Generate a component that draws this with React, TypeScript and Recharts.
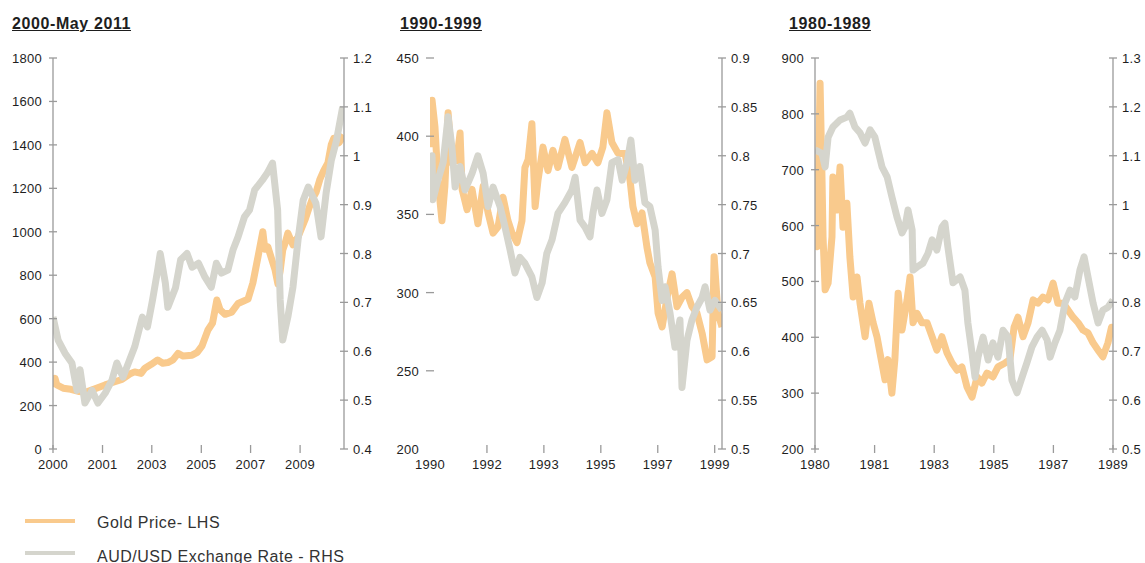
import React from "react";
import { LineChart, Line, XAxis, YAxis } from "recharts";

type Pt = [number, number];

// ---- 2000 - May 2011 ----
const gold2000: Pt[] = [
  [2000.0, 285], [2000.08, 325], [2000.15, 295], [2000.4, 280], [2000.7, 275],
  [2001.0, 265], [2001.3, 262], [2001.7, 280], [2002.04, 295], [2002.3, 305],
  [2002.7, 320], [2003.0, 345], [2003.2, 355], [2003.45, 348], [2003.6, 372],
  [2003.85, 390], [2004.1, 410], [2004.3, 395], [2004.5, 398], [2004.7, 410],
  [2004.9, 440], [2005.1, 428], [2005.45, 432], [2005.65, 445], [2005.84, 475],
  [2006.07, 548], [2006.25, 580], [2006.42, 686], [2006.55, 640], [2006.74, 620],
  [2007.0, 630], [2007.25, 670], [2007.45, 680], [2007.64, 690], [2007.83, 764],
  [2008.03, 884], [2008.22, 1000], [2008.3, 920], [2008.42, 930], [2008.55, 880],
  [2008.7, 824], [2008.81, 760], [2008.9, 820], [2009.0, 916], [2009.1, 950],
  [2009.2, 994], [2009.4, 940], [2009.6, 976], [2009.87, 1054], [2010.0, 1100],
  [2010.14, 1146], [2010.3, 1180], [2010.45, 1240], [2010.6, 1280], [2010.77, 1317],
  [2010.9, 1400], [2011.0, 1430], [2011.2, 1410], [2011.4, 1445],
];
const aud2000: Pt[] = [
  [2000.0, 0.67], [2000.2, 0.623], [2000.47, 0.596], [2000.74, 0.576], [2000.94, 0.52],
  [2001.06, 0.562], [2001.25, 0.494], [2001.53, 0.52], [2001.76, 0.494], [2002.04, 0.514],
  [2002.31, 0.541], [2002.5, 0.576], [2002.74, 0.547], [2003.0, 0.582], [2003.2, 0.609],
  [2003.5, 0.67], [2003.7, 0.65], [2003.9, 0.705], [2004.1, 0.766], [2004.2, 0.8],
  [2004.4, 0.74], [2004.5, 0.69], [2004.8, 0.73], [2005.0, 0.787], [2005.25, 0.8],
  [2005.45, 0.772], [2005.7, 0.78], [2005.95, 0.752], [2006.2, 0.731], [2006.4, 0.78],
  [2006.6, 0.76], [2006.85, 0.766], [2007.05, 0.807], [2007.25, 0.834], [2007.5, 0.875],
  [2007.7, 0.889], [2007.9, 0.93], [2008.2, 0.95], [2008.4, 0.965], [2008.6, 0.985],
  [2008.8, 0.889], [2008.9, 0.705], [2009.0, 0.623], [2009.2, 0.67], [2009.4, 0.731],
  [2009.6, 0.828], [2009.8, 0.909], [2010.0, 0.936], [2010.3, 0.903], [2010.5, 0.834],
  [2010.7, 0.924], [2010.9, 0.99], [2011.1, 1.03], [2011.35, 1.1],
];

// ---- 1990 - 1999 ----
const gold1990: Pt[] = [
  [1990.0, 393], [1990.07, 423], [1990.17, 406], [1990.27, 372], [1990.41, 346],
  [1990.51, 368], [1990.62, 415], [1990.75, 383], [1990.92, 385], [1991.03, 402],
  [1991.1, 366], [1991.27, 353], [1991.44, 366], [1991.64, 344], [1991.82, 368],
  [1991.99, 351], [1992.16, 338], [1992.33, 342], [1992.5, 361], [1992.67, 346],
  [1992.81, 338], [1992.98, 332], [1993.15, 346], [1993.25, 380], [1993.36, 385],
  [1993.49, 408], [1993.6, 355], [1993.7, 372], [1993.87, 393], [1994.04, 378],
  [1994.21, 391], [1994.38, 380], [1994.62, 398], [1994.86, 380], [1995.14, 396],
  [1995.31, 383], [1995.55, 389], [1995.75, 383], [1995.92, 393], [1996.06, 415],
  [1996.23, 396], [1996.44, 389], [1996.68, 389], [1996.85, 372], [1996.95, 355],
  [1997.09, 344], [1997.26, 351], [1997.43, 329], [1997.53, 319], [1997.71, 310],
  [1997.81, 287], [1997.95, 278], [1998.12, 297], [1998.29, 312], [1998.46, 291],
  [1998.63, 297], [1998.8, 300], [1998.97, 291], [1999.14, 287], [1999.32, 274],
  [1999.49, 257], [1999.66, 259], [1999.73, 323], [1999.86, 287], [2000.0, 278],
];
const aud1990: Pt[] = [
  [1990.0, 0.78], [1990.07, 0.8], [1990.1, 0.755], [1990.27, 0.775], [1990.45, 0.793],
  [1990.62, 0.84], [1990.75, 0.809], [1990.86, 0.768], [1991.03, 0.789], [1991.2, 0.765],
  [1991.44, 0.782], [1991.64, 0.8], [1991.82, 0.782], [1991.99, 0.748], [1992.16, 0.768],
  [1992.4, 0.748], [1992.57, 0.727], [1992.74, 0.704], [1992.91, 0.68], [1993.08, 0.696],
  [1993.25, 0.69], [1993.49, 0.676], [1993.66, 0.655], [1993.84, 0.67], [1994.0, 0.7],
  [1994.18, 0.714], [1994.38, 0.741], [1994.62, 0.752], [1994.86, 0.765], [1994.97, 0.778],
  [1995.14, 0.734], [1995.31, 0.727], [1995.48, 0.717], [1995.58, 0.741], [1995.72, 0.765],
  [1995.89, 0.741], [1996.06, 0.755], [1996.23, 0.793], [1996.44, 0.796], [1996.58, 0.775],
  [1996.75, 0.793], [1996.88, 0.816], [1997.02, 0.775], [1997.19, 0.789], [1997.36, 0.752],
  [1997.53, 0.748], [1997.71, 0.724], [1997.81, 0.686], [1997.95, 0.652], [1998.05, 0.666],
  [1998.22, 0.639], [1998.39, 0.604], [1998.56, 0.632], [1998.63, 0.563], [1998.8, 0.611],
  [1998.97, 0.632], [1999.14, 0.645], [1999.32, 0.655], [1999.42, 0.666], [1999.59, 0.642],
  [1999.76, 0.652], [2000.0, 0.642],
];

// ---- 1980 - 1989 ----
const gold1980: Pt[] = [
  [1980.0, 600], [1980.07, 562], [1980.1, 640], [1980.17, 855], [1980.23, 700],
  [1980.27, 580], [1980.34, 485], [1980.44, 497], [1980.57, 580], [1980.6, 687],
  [1980.74, 628], [1980.84, 705], [1980.94, 597], [1981.07, 640], [1981.17, 544],
  [1981.28, 472], [1981.41, 508], [1981.51, 461], [1981.68, 401], [1981.81, 461],
  [1981.95, 426], [1982.08, 401], [1982.18, 372], [1982.35, 324], [1982.45, 360],
  [1982.58, 300], [1982.68, 360], [1982.79, 479], [1982.92, 413], [1983.09, 467],
  [1983.19, 508], [1983.29, 426], [1983.42, 443], [1983.59, 426], [1983.76, 426],
  [1983.93, 401], [1984.09, 377], [1984.26, 401], [1984.43, 372], [1984.6, 354],
  [1984.77, 341], [1984.93, 347], [1985.1, 311], [1985.27, 293], [1985.44, 329],
  [1985.6, 318], [1985.77, 336], [1985.97, 329], [1986.14, 347], [1986.38, 354],
  [1986.54, 360], [1986.68, 418], [1986.81, 436], [1986.98, 401], [1987.15, 426],
  [1987.32, 467], [1987.48, 461], [1987.65, 472], [1987.82, 467], [1987.99, 497],
  [1988.15, 461], [1988.32, 461], [1988.49, 449], [1988.66, 436], [1988.83, 426],
  [1988.99, 413], [1989.16, 408], [1989.33, 390], [1989.5, 377], [1989.66, 365],
  [1989.83, 390], [1989.95, 418], [1990.0, 413],
];
const aud1980: Pt[] = [
  [1980.0, 1.112], [1980.23, 1.105], [1980.34, 1.077], [1980.44, 1.138], [1980.6, 1.159],
  [1980.84, 1.173], [1981.07, 1.179], [1981.17, 1.187], [1981.34, 1.159], [1981.51, 1.147],
  [1981.68, 1.126], [1981.85, 1.153], [1982.01, 1.138], [1982.11, 1.112], [1982.25, 1.077],
  [1982.42, 1.057], [1982.58, 1.016], [1982.75, 0.975], [1982.92, 0.942], [1983.02, 0.954],
  [1983.12, 0.989], [1983.26, 0.948], [1983.29, 0.866], [1983.42, 0.872], [1983.62, 0.88],
  [1983.79, 0.9], [1983.93, 0.928], [1984.09, 0.907], [1984.26, 0.954], [1984.36, 0.962],
  [1984.46, 0.913], [1984.63, 0.84], [1984.87, 0.852], [1985.03, 0.825], [1985.13, 0.758],
  [1985.27, 0.696], [1985.37, 0.647], [1985.47, 0.688], [1985.64, 0.729], [1985.81, 0.682],
  [1985.97, 0.717], [1986.14, 0.688], [1986.31, 0.743], [1986.48, 0.729], [1986.61, 0.641],
  [1986.78, 0.615], [1986.95, 0.647], [1987.11, 0.676], [1987.28, 0.709], [1987.45, 0.729],
  [1987.62, 0.743], [1987.79, 0.723], [1987.89, 0.688], [1988.05, 0.717], [1988.22, 0.743],
  [1988.39, 0.799], [1988.56, 0.825], [1988.72, 0.811], [1988.89, 0.866], [1989.03, 0.893],
  [1989.16, 0.852], [1989.33, 0.799], [1989.5, 0.758], [1989.66, 0.784], [1989.83, 0.79],
  [1990.0, 0.805],
];

// axis ticks / labels
const xTicks2000 = [2000, 2001.94, 2003.87, 2005.81, 2007.74, 2009.68];
const xLabels2000 = ["2000", "2001", "2003", "2005", "2007", "2009"];
const xTicks1990 = [1990, 1991.95, 1993.9, 1995.85, 1997.8, 1999.75];
const xLabels1990 = ["1990", "1992", "1993", "1995", "1997", "1999"];
const xTicks1980 = [1980, 1982, 1984, 1986, 1988, 1990];
const xLabels1980 = ["1980", "1981", "1983", "1985", "1987", "1989"];

const goldTicks2000 = [0, 200, 400, 600, 800, 1000, 1200, 1400, 1600, 1800];
const audTicks2000 = [0.4, 0.5, 0.6, 0.7, 0.8, 0.9, 1.0, 1.1, 1.2];
const goldTicks1990 = [200, 250, 300, 350, 400, 450];
const audTicks1990 = [0.5, 0.55, 0.6, 0.65, 0.7, 0.75, 0.8, 0.85, 0.9];
const goldTicks1980 = [200, 300, 400, 500, 600, 700, 800, 900];
const audTicks1980 = [0.5, 0.6, 0.7, 0.8, 0.9, 1.0, 1.1, 1.2, 1.3];

const GOLD = "#F9CA8D";
const FX = "#D5D5CD";
const AXIS = "#9a9a9a";
const INK = "#1e1e1e";
const FONT = '"Liberation Sans", Arial, Helvetica, sans-serif';

const num = (v: number) => String(Number(v.toFixed(2)));

// tick mark crosses the axis, label sits outside it
function makeTick(
  side: "left" | "right" | "bottom",
  fmt: (v: number) => string,
  skipMark?: (v: number) => boolean,
) {
  return (props: any) => {
    const { x, y, payload } = props;
    const label = fmt(payload.value);
    const mark = !(skipMark && skipMark(payload.value));
    const textStyle = { fontFamily: FONT, fontSize: 13, letterSpacing: 0.3, fill: INK };
    if (side === "bottom") {
      return (
        <g>
          {mark && <line x1={x} x2={x} y1={y - 4} y2={y + 4} stroke={AXIS} strokeWidth={1.3} />}
          <text x={x} y={y + 20} textAnchor="middle" style={textStyle}>{label}</text>
        </g>
      );
    }
    const left = side === "left";
    return (
      <g>
        {mark && <line x1={x - 4} x2={x + 4} y1={y} y2={y} stroke={AXIS} strokeWidth={1.3} />}
        <text x={left ? x - 11 : x + 9} y={y + 5} textAnchor={left ? "end" : "start"} style={textStyle}>
          {label}
        </text>
      </g>
    );
  };
}

interface PanelProps {
  title: string;
  titleX: number;
  left: number;
  width: number;
  leftWidth: number;
  rightWidth: number;
  xDomain: [number, number];
  xTicks: number[];
  xLabels: string[];
  goldTicks: number[];
  audTicks: number[];
  gold: Pt[];
  aud: Pt[];
  leftLine: boolean;
}

function Panel(p: PanelProps) {
  const xFmt = (v: number) => {
    const i = p.xTicks.indexOf(v);
    return i >= 0 ? p.xLabels[i] : "";
  };
  const goldRows = p.gold.map(([t, v]) => ({ t, v }));
  const audRows = p.aud.map(([t, v]) => ({ t, v }));
  const gDom: [number, number] = [p.goldTicks[0], p.goldTicks[p.goldTicks.length - 1]];
  const aDom: [number, number] = [p.audTicks[0], p.audTicks[p.audTicks.length - 1]];
  // without a left axis line the corner carries no marks
  const skipX = p.leftLine ? undefined : (v: number) => v === p.xTicks[0];
  const skipY = p.leftLine ? undefined : (v: number) => v === gDom[0];

  return (
    <>
      <div
        style={{
          position: "absolute",
          left: p.titleX,
          top: 16,
          fontFamily: FONT,
          fontWeight: "bold",
          fontSize: 16,
          lineHeight: "16px",
          letterSpacing: 0.6,
          textDecoration: "underline",
          color: INK,
          whiteSpace: "nowrap",
        }}
      >
        {p.title}
      </div>
      <div style={{ position: "absolute", left: p.left, top: 48 }}>
        <LineChart width={p.width} height={431} margin={{ top: 10, right: 0, bottom: 0, left: 0 }}>
          <XAxis
            type="number"
            dataKey="t"
            domain={p.xDomain}
            ticks={p.xTicks}
            allowDataOverflow
            axisLine={false}
            tickLine={false}
            tickSize={0}
            tickMargin={0}
            height={30}
            interval={0}
            tick={makeTick("bottom", xFmt, skipX)}
          />
          <YAxis
            yAxisId="gold"
            orientation="left"
            width={p.leftWidth}
            domain={gDom}
            ticks={p.goldTicks}
            allowDataOverflow
            interval={0}
            axisLine={p.leftLine ? { stroke: AXIS, strokeWidth: 1.3 } : false}
            tickLine={false}
            tickSize={0}
            tickMargin={0}
            tick={makeTick("left", num, skipY)}
          />
          <YAxis
            yAxisId="aud"
            orientation="right"
            width={p.rightWidth}
            domain={aDom}
            ticks={p.audTicks}
            allowDataOverflow
            interval={0}
            axisLine={{ stroke: AXIS, strokeWidth: 1.3 }}
            tickLine={false}
            tickSize={0}
            tickMargin={0}
            tick={makeTick("right", num)}
          />
          <Line
            yAxisId="gold"
            data={goldRows}
            dataKey="v"
            type="linear"
            stroke={GOLD}
            strokeWidth={7}
            strokeLinejoin="round"
            dot={false}
            activeDot={false}
            isAnimationActive={false}
          />
          <Line
            yAxisId="aud"
            data={audRows}
            dataKey="v"
            type="linear"
            stroke={FX}
            strokeWidth={7}
            strokeLinejoin="round"
            dot={false}
            activeDot={false}
            isAnimationActive={false}
          />
        </LineChart>
      </div>
    </>
  );
}

export default function App() {
  return (
    <div
      style={{
        position: "absolute",
        left: 0,
        top: 0,
        width: 1145,
        height: 563,
        background: "#fff",
        overflow: "hidden",
        fontFamily: FONT,
      }}
    >
      <Panel
        title="2000-May 2011"
        titleX={12}
        left={0}
        width={385}
        leftWidth={53}
        rightWidth={41}
        xDomain={[2000, 2011.4]}
        xTicks={xTicks2000}
        xLabels={xLabels2000}
        goldTicks={goldTicks2000}
        audTicks={audTicks2000}
        gold={gold2000}
        aud={aud2000}
        leftLine
      />
      <Panel
        title="1990-1999"
        titleX={400}
        left={385}
        width={375}
        leftWidth={45}
        rightWidth={38}
        xDomain={[1990, 2000]}
        xTicks={xTicks1990}
        xLabels={xLabels1990}
        goldTicks={goldTicks1990}
        audTicks={audTicks1990}
        gold={gold1990}
        aud={aud1990}
        leftLine={false}
      />
      <Panel
        title="1980-1989"
        titleX={789}
        left={760}
        width={385}
        leftWidth={55}
        rightWidth={32}
        xDomain={[1980, 1990]}
        xTicks={xTicks1980}
        xLabels={xLabels1980}
        goldTicks={goldTicks1980}
        audTicks={audTicks1980}
        gold={gold1980}
        aud={aud1980}
        leftLine
      />

      {/* Legend */}
      <div style={{ position: "absolute", left: 25, top: 519, width: 50, height: 4, background: GOLD }} />
      <div
        style={{
          position: "absolute", left: 97, top: 514.5, fontSize: 16, lineHeight: "16px",
          letterSpacing: 0.5, color: "#333", whiteSpace: "nowrap",
        }}
      >
        Gold Price- LHS
      </div>
      <div style={{ position: "absolute", left: 25, top: 551, width: 50, height: 4, background: FX }} />
      <div
        style={{
          position: "absolute", left: 97, top: 548.5, fontSize: 16, lineHeight: "16px",
          letterSpacing: 0.5, color: "#333", whiteSpace: "nowrap",
        }}
      >
        AUD/USD Exchange Rate - RHS
      </div>
    </div>
  );
}
